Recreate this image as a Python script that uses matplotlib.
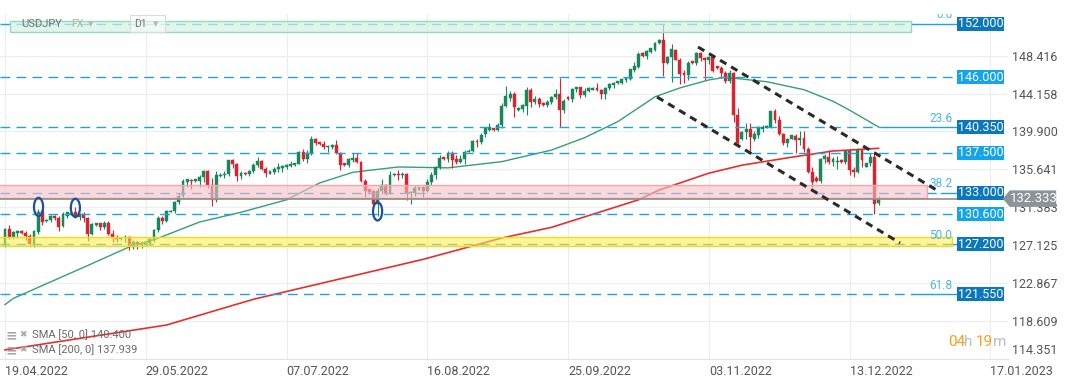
import matplotlib
matplotlib.use("Agg")
import matplotlib.pyplot as plt
from matplotlib.patches import Rectangle, Ellipse, Polygon, FancyBboxPatch
from matplotlib.colors import to_rgba

plt.rcParams['font.family'] = ['Roboto', 'DejaVu Sans']

# daily candles 19.04.2022 - 21.12.2022 (sunday bars included), one line per week
opens = [
    127.0, 128.9, 128.05, 128.45,
    128.65, 128.5, 128.15, 127.2, 128.6, 130.9,
    129.8, 129.9, 130.4, 130.2, 129.2, 130.4,
    130.55, 130.8, 130.3, 130.6, 130.1, 128.35,
    129.35, 129.55, 129.1, 129.6, 128.4, 127.95,
    127.8, 127.9, 128.0, 126.85, 127.4, 127.1,
    127.15, 127.3, 127.7, 128.8, 130.2, 129.85,
    130.85, 130.9, 131.9, 132.65, 134.25, 134.45,
    134.3, 134.35, 134.8, 135.45, 133.9, 132.2,
    134.9, 135.0, 135.1, 136.65, 136.25, 134.9,
    135.2, 135.15, 135.45, 136.1, 136.6, 135.7,
    135.15, 135.3, 135.7, 135.8, 135.95, 136.0,
    136.1, 136.25, 137.6, 136.85, 137.45, 139.05,
    138.7, 138.5, 138.1, 138.2, 138.35, 137.45,
    136.3, 136.15, 136.7, 136.95, 136.5, 134.3,
    133.4, 133.15, 131.7, 133.2, 133.85, 133.0,
    134.95, 135.15, 134.95, 135.15, 132.95, 133.0,
    133.35, 133.6, 133.25, 134.25, 135.0, 135.9,
    137.0, 136.8, 137.5, 136.75, 136.45, 136.8,
    137.6, 137.75, 138.85, 138.75, 139.6, 140.1,
    140.25, 140.05, 140.6, 142.8, 143.7, 144.15,
    142.3, 142.4, 142.8, 144.6, 143.2, 143.55,
    143.1, 142.9, 143.2, 143.75, 144.1, 142.35,
    143.8, 143.5, 144.7, 144.85, 144.05, 144.45,
    144.6, 144.8, 144.55, 144.1, 144.75, 145.15,
    145.3, 145.35, 145.7, 145.85, 146.85, 147.2,
    148.75, 148.4, 148.9, 149.1, 149.85, 150.15,
    147.6, 148.3, 149.1, 148.0, 146.45, 146.25,
    147.8, 147.6, 148.7, 148.15, 147.9, 148.25,
    147.25, 147.0, 146.5, 145.6, 146.45, 141.7,
    139.1, 139.8, 140.2, 139.05, 139.55, 140.2,
    140.3, 140.4, 142.15, 141.2, 139.6, 138.6,
    139.1, 139.4, 138.9, 139.2, 137.95, 135.35,
    134.7, 134.35, 136.75, 137.0, 136.45, 136.45,
    136.65, 136.45, 137.7, 135.6, 135.35, 137.8,
    135.95, 136.3, 137.0, 131.8,
]
highs = [
    129.0, 129.4, 128.7, 128.75,
    128.75, 128.7, 128.3, 128.8, 131.2, 131.25,
    130.0, 130.5, 130.5, 130.4, 130.8, 130.85,
    130.85, 131.35, 130.7, 130.8, 130.3, 129.6,
    129.6, 129.6, 129.8, 129.85, 128.8, 128.2,
    128.0, 128.2, 128.1, 127.7, 127.6, 127.4,
    127.4, 127.9, 128.9, 130.4, 130.4, 131.0,
    131.0, 132.1, 132.95, 134.5, 134.6, 134.6,
    134.6, 135.0, 135.6, 135.6, 134.7, 135.4,
    135.2, 135.4, 136.7, 136.75, 136.4, 135.4,
    135.35, 135.6, 136.4, 137.0, 136.7, 135.9,
    135.45, 135.9, 136.4, 136.15, 136.2, 136.55,
    136.35, 137.75, 137.9, 137.8, 139.4, 139.2,
    138.75, 138.85, 138.4, 138.5, 138.9, 137.6,
    136.35, 136.9, 137.45, 137.45, 136.6, 134.6,
    133.45, 133.3, 133.5, 134.5, 134.0, 135.5,
    135.2, 135.55, 135.3, 135.2, 133.2, 133.9,
    133.7, 133.7, 134.5, 135.3, 136.0, 137.2,
    137.05, 137.7, 137.65, 137.2, 137.2, 137.8,
    137.9, 138.9, 139.1, 139.7, 140.4, 140.8,
    140.3, 140.8, 143.1, 144.99, 144.5, 144.3,
    142.65, 143.0, 144.9, 144.8, 143.9, 143.8,
    143.2, 143.4, 143.9, 144.7, 145.9, 143.6,
    143.9, 144.8, 144.95, 144.95, 144.8, 144.9,
    144.85, 145.4, 144.7, 144.9, 145.4, 145.5,
    145.6, 145.9, 146.0, 146.95, 147.7, 148.85,
    148.85, 149.1, 149.3, 149.95, 150.3, 151.95,
    148.4, 149.7, 149.2, 148.2, 146.8, 147.8,
    147.85, 148.8, 148.8, 148.3, 148.4, 148.4,
    147.3, 147.3, 146.75, 146.8, 146.6, 142.5,
    139.9, 140.8, 140.9, 139.9, 140.5, 140.6,
    140.6, 142.25, 142.4, 141.6, 139.7, 139.2,
    139.55, 139.6, 139.9, 139.9, 138.2, 135.9,
    134.85, 136.9, 137.4, 137.85, 137.0, 137.1,
    136.75, 137.85, 137.95, 135.9, 138.0, 137.95,
    136.4, 137.45, 137.5, 132.65,
]
lows = [
    126.9, 127.8, 127.75, 127.85,
    128.4, 127.7, 126.95, 126.9, 128.4, 129.35,
    129.7, 129.7, 129.9, 128.7, 129.1, 130.1,
    130.5, 130.1, 129.9, 129.7, 127.6, 128.2,
    129.3, 128.8, 128.9, 128.2, 127.5, 127.5,
    127.7, 127.5, 126.5, 126.7, 126.7, 126.8,
    127.1, 127.0, 127.5, 128.6, 129.5, 129.7,
    130.8, 130.7, 131.7, 132.5, 133.7, 133.4,
    134.2, 133.7, 134.2, 133.5, 131.5, 132.0,
    134.8, 134.7, 134.9, 135.8, 134.3, 134.5,
    135.05, 134.9, 135.2, 135.9, 135.6, 134.75,
    135.1, 135.1, 135.3, 135.3, 135.7, 135.9,
    136.05, 136.2, 136.6, 136.4, 137.3, 138.4,
    138.4, 137.9, 137.6, 137.9, 137.4, 135.6,
    136.05, 135.9, 136.5, 136.4, 134.2, 132.55,
    133.0, 131.6, 130.4, 132.9, 132.7, 132.8,
    134.9, 134.4, 134.7, 132.2, 131.75, 132.6,
    133.3, 132.55, 133.1, 133.9, 134.6, 135.7,
    136.7, 136.5, 135.8, 136.2, 136.3, 136.2,
    137.55, 137.6, 138.2, 138.5, 139.3, 139.9,
    139.95, 139.9, 140.3, 142.6, 143.3, 141.5,
    142.2, 142.1, 141.7, 142.6, 143.0, 142.7,
    142.8, 142.6, 143.0, 143.6, 140.35, 142.0,
    143.45, 143.2, 144.3, 143.7, 143.8, 144.3,
    144.55, 144.5, 143.5, 143.6, 144.6, 144.8,
    145.25, 145.2, 145.5, 145.7, 146.6, 147.1,
    148.3, 148.1, 148.7, 149.0, 149.7, 146.2,
    147.5, 145.5, 147.9, 145.2, 145.3, 145.7,
    147.5, 147.4, 147.8, 145.7, 147.5, 146.6,
    146.9, 145.9, 145.3, 145.3, 141.0, 138.4,
    138.9, 139.1, 137.7, 138.8, 139.2, 139.8,
    140.25, 140.3, 140.9, 139.5, 138.4, 138.1,
    139.0, 137.5, 138.4, 137.6, 135.2, 133.65,
    134.2, 134.1, 136.4, 136.2, 136.0, 135.7,
    136.4, 136.2, 135.0, 134.8, 135.2, 135.9,
    135.9, 136.0, 130.58, 131.6,
]
closes = [
    128.9, 128.05, 128.6, 128.7,
    128.45, 128.15, 127.25, 128.7, 130.85, 129.75,
    129.95, 130.35, 130.15, 129.15, 130.6, 130.8,
    130.75, 130.25, 130.6, 130.1, 128.35, 129.45,
    129.55, 129.1, 129.6, 128.4, 127.95, 127.8,
    127.9, 128.0, 126.85, 127.4, 127.1, 127.2,
    127.35, 127.75, 128.8, 130.2, 129.85, 130.9,
    130.95, 131.9, 132.65, 134.3, 134.5, 134.35,
    134.5, 134.8, 135.5, 133.9, 132.2, 135.0,
    135.0, 135.1, 136.65, 136.25, 134.9, 135.2,
    135.15, 135.45, 136.1, 136.6, 135.7, 135.2,
    135.4, 135.7, 135.95, 136.0, 136.1, 136.25,
    136.3, 137.6, 136.85, 137.45, 139.05, 138.55,
    138.45, 138.1, 138.3, 138.35, 137.45, 136.1,
    136.1, 136.75, 136.95, 136.5, 134.3, 133.25,
    133.1, 131.7, 133.2, 133.85, 133.0, 135.0,
    135.15, 134.95, 135.15, 132.95, 133.05, 133.5,
    133.6, 133.25, 134.2, 135.0, 135.9, 136.9,
    136.8, 137.5, 136.7, 136.45, 136.8, 137.55,
    137.75, 138.85, 138.75, 139.55, 140.3, 140.4,
    140.05, 140.6, 142.8, 143.9, 144.15, 142.7,
    142.5, 142.9, 144.6, 143.2, 143.55, 142.95,
    142.85, 143.25, 143.75, 144.1, 142.35, 143.35,
    143.55, 144.7, 144.85, 144.05, 144.45, 144.75,
    144.8, 144.55, 144.1, 144.75, 145.2, 145.4,
    145.55, 145.75, 145.9, 146.9, 147.25, 148.65,
    148.4, 149.0, 149.25, 149.85, 150.15, 147.65,
    148.3, 149.15, 148.0, 146.35, 146.25, 147.6,
    147.6, 148.7, 148.15, 147.9, 148.25, 146.7,
    147.0, 146.5, 145.6, 146.45, 141.7, 138.6,
    139.8, 140.2, 139.3, 139.6, 140.35, 140.4,
    140.5, 142.15, 141.2, 139.6, 138.6, 139.1,
    139.45, 138.9, 139.2, 137.95, 135.35, 134.25,
    134.35, 136.75, 137.15, 136.45, 136.85, 136.6,
    136.45, 137.7, 135.55, 135.3, 137.8, 136.65,
    136.3, 137.0, 131.75, 132.333,
]

# moving averages (bar index, value)
sma50_x = [0, 2, 19, 31, 36, 47, 57, 68, 76, 84, 95, 107, 120, 132, 140, 148,
           157, 163, 170, 174, 184, 193, 200, 204, 211]
sma50_y = [120.4, 121.1, 124.6, 127.1, 127.7, 129.7, 130.8, 132.2, 134.1, 135.3,
           135.9, 135.8, 136.5, 137.8, 139.2, 141.0, 143.8, 144.8, 145.7, 146.0,
           145.5, 144.6, 143.3, 142.3, 140.4]
sma200_x = [0, 39, 60, 86, 101, 120, 132, 153, 158, 170, 178, 190, 200, 211]
sma200_y = [115.3, 118.1, 121.0, 123.85, 125.5, 127.9, 129.1, 132.2, 133.3,
            135.2, 136.1, 137.0, 137.7, 138.0]

date_pos = [0, 34, 68, 102, 136, 170, 204, 238]
date_labels = ['19.04.2022', '29.05.2022', '07.07.2022', '16.08.2022',
               '25.09.2022', '03.11.2022', '13.12.2022', '17.01.2023']
price_ticks = [148.416, 144.158, 139.900, 135.641, 131.383, 127.125, 122.867, 118.609]
bottom_tick = 114.351

levels = [152.0, 146.0, 140.35, 137.5, 133.0, 130.6, 127.2, 121.55]
level_dark = [True, False, True, False, True, False, True, True]
level_dash_end = [219, 230, 213, 230, 226, 230, 228.5, 219]
fib_labels = ['0.0', '', '23.6', '', '38.2', '', '50.0', '61.8']
last_price = 132.333

# channel lines (bar, price)
upper_x, upper_y = [167.4, 225.8], [149.41, 133.08]
lower_x, lower_y = [157.5, 216.2], [143.78, 127.34]

# zones: x0, x1, y0, y1
green_zone = (1.2, 218.8, 151.15, 152.3)
pink_zone = (-2, 222.7, 132.44, 133.87)
yellow_zone = (-2, 228.7, 127.0, 128.05)

# circled candles
circle_x = [8.1, 17.0, 90.0]
circle_y = [131.4, 131.3, 130.9]

W, H = 1072, 382
fig = plt.figure(figsize=(W / 100, H / 100), dpi=100)
ax = fig.add_axes([0, 23 / H, 1008 / W, 345 / H])
x0, x1 = -5 / 4.14, 1003 / 4.14
ax.set_xlim(x0, x1)
ax.set_ylim(114.275, 153.126)

GREEN, RED = '#17885b', '#d9232f'
LBLUE = '#1ba3e6'

# candles
for i in range(len(closes)):
    o, h, l, c = opens[i], highs[i], lows[i], closes[i]
    col = GREEN if c >= o else RED
    ax.vlines(i, l, h, color=col, lw=0.8, zorder=3)
    ax.bar(i, max(abs(c - o), 0.06), bottom=min(o, c), width=0.7,
           color=col, edgecolor=col, lw=0.3, zorder=3)

ax.plot(sma50_x, sma50_y, color='#35a077', lw=1.0, zorder=2)
ax.plot(sma200_x, sma200_y, color='#e3302f', lw=1.2, zorder=2)

# horizontal levels
for lvl, dark, end, fib in zip(levels, level_dark, level_dash_end, fib_labels):
    ax.plot([x0, end], [lvl, lvl], color=LBLUE, lw=1.0,
            linestyle=(0, (7, 4.5)), zorder=4)
    if end < 230:
        ax.plot([end, 230], [lvl, lvl], color=LBLUE, lw=1.0, zorder=4)
    ax.add_patch(Rectangle((230.0, lvl - 0.79), 11.35, 1.58,
                           facecolor='#0b77bd' if dark else '#14a4ea',
                           edgecolor='none', zorder=10, clip_on=False))
    ax.text(235.67, lvl, '%.3f' % lvl, color='white', fontsize=9,
            ha='center', va='center', zorder=11, clip_on=False)
    if fib:
        ax.text(228.8, lvl + 0.3, fib, color='#4ab5ec', fontsize=8.5,
                ha='right', va='bottom', zorder=6, clip_on=True)

# zones
def zone(z, face, edge, a):
    ax.add_patch(Rectangle((z[0], z[2]), z[1] - z[0], z[3] - z[2],
                           facecolor=to_rgba(face, a), edgecolor=edge,
                           lw=1.0, zorder=5))

zone(green_zone, '#d3f2e4', '#92dbbb', 0.7)
zone(pink_zone, '#f7bfc4', '#f2a5ab', 0.6)
zone(yellow_zone, '#fff04a', '#f3da1c', 0.55)

# current price
ax.hlines(last_price, x0, 241.0, color='#8e8e8e', lw=1.2, zorder=6)
p = last_price
ax.add_patch(Polygon([(241.0, p), (242.7, p + 0.93), (253.9, p + 0.93),
                      (253.9, p - 0.93), (242.7, p - 0.93)],
                     closed=True, facecolor='#8b9498', edgecolor='none',
                     zorder=12, clip_on=False))
ax.text(248.4, p, '%.3f' % p, color='white', fontsize=9.5, ha='center',
        va='center', zorder=13, clip_on=False)

# channel
ax.plot(upper_x, upper_y, color='#2a2a2a', lw=2.2, linestyle=(0, (2.4, 1.8)), zorder=7)
ax.plot(lower_x, lower_y, color='#2a2a2a', lw=2.2, linestyle=(0, (2.4, 1.8)), zorder=7)

for cx, cy in zip(circle_x, circle_y):
    ax.add_patch(Ellipse((cx, cy), 2.2, 2.05, fill=False, edgecolor='#1d4f9b',
                         lw=1.6, zorder=8))

# axes styling
ax.set_xticks(date_pos)
ax.set_xticklabels(date_labels, ha='left')
ax.yaxis.tick_right()
ax.set_yticks(price_ticks)
ax.set_yticklabels(['%.3f' % t for t in price_ticks])
ax.tick_params(axis='x', length=0, pad=4, labelsize=9, labelcolor='#555555')
ax.tick_params(axis='y', length=0, pad=3, labelsize=9, labelcolor='#555555')
ax.grid(True, color='#ededed', lw=0.8, zorder=0)
ax.set_axisbelow(True)
for s in ['top', 'left', 'right']:
    ax.spines[s].set_visible(False)
ax.spines['bottom'].set_color('#e3e3e3')
ax.annotate('%.3f' % bottom_tick, xy=(1, bottom_tick),
            xycoords=('axes fraction', 'data'), xytext=(3, 1),
            textcoords='offset points', ha='left', va='bottom',
            fontsize=9, color='#555555', annotation_clip=False)

# header
fy = 1 - 24 / H
fig.text(21 / W, fy, 'USDJPY', fontsize=8, color='#707070', va='center', zorder=20)
fig.text(71 / W, fy, 'FX', fontsize=7.5, color='#b0b0b0', va='center', zorder=20)
fig.text(88 / W, fy, '\u25be', fontsize=8, color='#b8b8b8', va='center', zorder=20)
fig.patches.append(FancyBboxPatch((130 / W, 1 - 32 / H), 35 / W, 17 / H,
                                  boxstyle='square,pad=0', transform=fig.transFigure,
                                  facecolor=to_rgba('white', 0.5), edgecolor='#dcdcdc',
                                  lw=0.8, zorder=19))
fig.text(134 / W, fy, 'D1', fontsize=7.5, color='#707070', va='center', zorder=20)
fig.text(153 / W, fy, '\u25be', fontsize=8, color='#b8b8b8', va='center', zorder=20)

# legend rows
for yy, label in [(335, 'SMA [50, 0] 140.400'), (350, 'SMA [200, 0] 137.939')]:
    fig.text(6 / W, 1 - yy / H, '\u2261', fontsize=10, color='#a8a8a8',
             va='center', weight='bold')
    fig.text(19 / W, 1 - yy / H, '\u2716', fontsize=6.5, color='#a8a8a8',
             va='center', family=['DejaVu Sans'])
    fig.text(31.5 / W, 1 - yy / H, label, fontsize=8, color='#6a6a6a', va='center')

# timer
ty = 1 - 345.8 / H
fig.text(948 / W, ty, '04', fontsize=11, color='#f5a01c', va='baseline')
fig.text(964 / W, ty, 'h', fontsize=11, color='#bdbdbd', va='baseline')
fig.text(976 / W, ty, '19', fontsize=11, color='#f5a01c', va='baseline')
fig.text(993 / W, ty, 'm', fontsize=11, color='#bdbdbd', va='baseline')

fig.savefig('out.png', dpi=100)
